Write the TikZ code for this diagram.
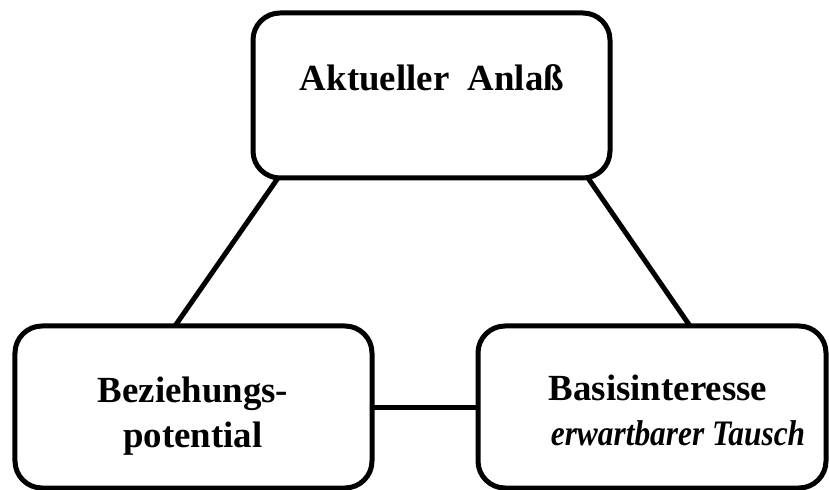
\documentclass[tikz,border=0pt]{standalone}
\usepackage{fontspec}
\setmainfont{Liberation Serif}
\usetikzlibrary{calc}
\begin{document}
\begin{tikzpicture}[x=1bp,y=-1bp,
  box/.style={draw=black,line width=5bp,rounded corners=27bp,inner sep=0pt,outer sep=0pt,fill=white},
  lbl/.style={font=\fontsize{37}{46}\selectfont\bfseries,align=center,inner sep=0pt},
  conn/.style={draw=black,line width=5bp}]
\clip (0,0) rectangle (829,490);
\fill[white] (0,0) rectangle (829,490);
\node[box,minimum width=357bp,minimum height=165bp] (top) at (431.5,95.5) {};
\node[box,minimum width=357bp,minimum height=162bp] (bl) at (193.5,407) {};
\node[box,minimum width=348bp,minimum height=162bp] (br) at (652,407) {};
\coordinate (t1) at ($(top.south west)+(25,0)$);
\coordinate (t2) at ($(top.south east)+(-22,0)$);
\coordinate (b1) at ($(bl.north west)+(160,0)$);
\coordinate (b2) at ($(br.north west)+(212,0)$);
\draw[conn] (t1) -- (b1);
\draw[conn] (t2) -- (b2);
\draw[conn] (bl.east) -- (br.west);
\node[lbl] (ttop) at (432,78) {Aktueller\ \ Anlaß};
\node[lbl,anchor=base] (tbl1) at (193,402) {Beziehungs-};
\node[lbl,anchor=base] (tbl2) at (193,447) {potential};
\node[lbl,anchor=base] (tbr1) at (658,400) {Basisinteresse};
\node[lbl,anchor=base,font=\fontsize{36}{44}\selectfont\bfseries\itshape] (tbr2) at (678,445) {\scalebox{0.875}[1]{erwartbarer Tausch}};
\end{tikzpicture}
\end{document}
